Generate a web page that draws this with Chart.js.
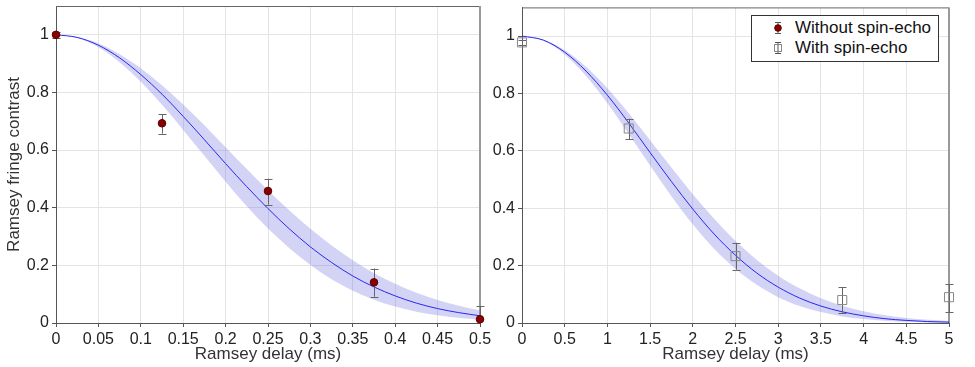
<!DOCTYPE html>
<html>
<head>
<meta charset="utf-8">
<script src="https://cdn.jsdelivr.net/npm/chart.js@4.4.1/dist/chart.umd.min.js"></script>
<style>
  body { margin: 0; background: #fff; width: 975px; height: 367px; overflow: hidden; position: relative; font-family: "Liberation Sans", Arial, sans-serif; }
  #wrapLeft { position: absolute; left: 0; top: 0; }
  #wrapRight { position: absolute; left: 487px; top: 0; }
  #legend { position: absolute; left: 751px; top: 15px; width: 188px; height: 47px; border: 1px solid #333; background: #fff; box-sizing: border-box; font-size: 17px; color: #111; }
  #legend .row { position: absolute; left: 20px; height: 20px; display: flex; align-items: center; }
  #legend svg { margin-right: 11px; }
</style>
</head>
<body>
<div id="wrapLeft"><canvas id="leftChart" width="497" height="367"></canvas></div>
<div id="wrapRight"><canvas id="rightChart" width="488" height="367"></canvas></div>
<div id="legend">
  <div class="row" style="top:2px">
    <svg width="12" height="20"><line x1="6" y1="4" x2="6" y2="16" stroke="#555"/><line x1="3" y1="4.5" x2="9" y2="4.5" stroke="#555"/><line x1="3" y1="15.5" x2="9" y2="15.5" stroke="#555"/><circle cx="6" cy="10" r="3.3" fill="#8b0000" stroke="#5a0000"/></svg>
    <span>Without spin-echo</span>
  </div>
  <div class="row" style="top:22px">
    <svg width="12" height="20"><line x1="6" y1="4" x2="6" y2="16" stroke="#555"/><line x1="3" y1="4.5" x2="9" y2="4.5" stroke="#555"/><line x1="3" y1="15.5" x2="9" y2="15.5" stroke="#555"/><rect x="2.5" y="6.5" width="7" height="7" fill="none" stroke="#888"/></svg>
    <span>With spin-echo</span>
  </div>
</div>
<script>
// measured points (Ramsey delay in ms, contrast)
const delayShort = [0, 0.125, 0.25, 0.375, 0.5];
const contrastNoEcho = [1.0, 0.693, 0.458, 0.141, 0.013];
const errLowNoEcho = [0.99, 0.657, 0.411, 0.091, -0.03];
const errHighNoEcho = [1.01, 0.725, 0.501, 0.189, 0.059];

const delayLong = [0, 1.25, 2.5, 3.75, 5];
const contrastEcho = [0.978, 0.678, 0.233, 0.08, 0.09];
const errLowEcho = [0.968, 0.640, 0.186, 0.036, 0.039];
const errHighEcho = [0.988, 0.712, 0.279, 0.124, 0.136];

// fit curves
const fitXShort = [0, 0.025, 0.05, 0.075, 0.1, 0.125, 0.15, 0.175, 0.2, 0.225, 0.25, 0.275, 0.3, 0.325, 0.35, 0.375, 0.4, 0.425, 0.45, 0.475, 0.5];
const fitNoEcho = [1, 0.991, 0.964, 0.920, 0.862, 0.794, 0.717, 0.636, 0.553, 0.473, 0.397, 0.327, 0.264, 0.210, 0.163, 0.125, 0.094, 0.069, 0.050, 0.036, 0.025];
const fitNoEchoUpper = [1, 0.992, 0.970, 0.933, 0.884, 0.825, 0.758, 0.686, 0.610, 0.534, 0.461, 0.391, 0.327, 0.269, 0.218, 0.173, 0.136, 0.105, 0.080, 0.060, 0.044];
const fitNoEchoLower = [1, 0.989, 0.957, 0.905, 0.837, 0.757, 0.670, 0.580, 0.490, 0.405, 0.328, 0.260, 0.201, 0.152, 0.112, 0.081, 0.057, 0.039, 0.027, 0.018, 0.012];

const fitXLong = [0, 0.25, 0.5, 0.75, 1, 1.25, 1.5, 1.75, 2, 2.25, 2.5, 2.75, 3, 3.25, 3.5, 3.75, 4, 4.25, 4.5, 4.75, 5];
const fitEcho = [1, 0.986, 0.944, 0.878, 0.794, 0.697, 0.594, 0.493, 0.397, 0.310, 0.236, 0.174, 0.125, 0.087, 0.059, 0.039, 0.025, 0.015, 0.009, 0.005, 0.003];
const fitEchoUpper = [1, 0.987, 0.951, 0.893, 0.818, 0.731, 0.637, 0.542, 0.449, 0.363, 0.286, 0.220, 0.165, 0.121, 0.086, 0.060, 0.041, 0.027, 0.017, 0.011, 0.007];
const fitEchoLower = [1, 0.984, 0.936, 0.861, 0.766, 0.659, 0.549, 0.442, 0.344, 0.259, 0.189, 0.133, 0.090, 0.059, 0.038, 0.023, 0.014, 0.008, 0.004, 0.002, 0.001];

const yTicks = [0, 0.2, 0.4, 0.6, 0.8, 1];

function toPoints(xs, ys) {
  return xs.map((x, i) => ({ x, y: ys[i] }));
}

// draws vertical error bars under the marker dataset (index 0)
const errorBars = {
  id: "errorBars",
  beforeDatasetDraw(chart, args) {
    if (args.index !== 0) return;
    const ds = chart.data.datasets[0];
    const xs = chart.scales.x, ys = chart.scales.y;
    const ctx = chart.ctx;
    ctx.save();
    ctx.strokeStyle = "#666";
    ctx.lineWidth = 1;
    ds.data.forEach((p, i) => {
      const px = Math.round(xs.getPixelForValue(p.x)) + 0.5;
      const lo = Math.max(ds.errLow[i], ys.min);
      const hi = ds.errHigh[i];
      const yLo = ys.getPixelForValue(lo);
      const yHi = ys.getPixelForValue(hi);
      ctx.beginPath();
      ctx.moveTo(px, yLo);
      ctx.lineTo(px, yHi);
      ctx.moveTo(px - 4, Math.round(yHi) + 0.5);
      ctx.lineTo(px + 4, Math.round(yHi) + 0.5);
      if (ds.errLow[i] >= ys.min) {
        ctx.moveTo(px - 4, Math.round(yLo) + 0.5);
        ctx.lineTo(px + 4, Math.round(yLo) + 0.5);
      }
      ctx.stroke();
    });
    ctx.restore();
  }
};

// box around the plot area
const frame = {
  id: "frame",
  beforeDatasetsDraw(chart) {
    const a = chart.chartArea;
    const ctx = chart.ctx;
    ctx.save();
    ctx.strokeStyle = "#666";
    ctx.lineWidth = 1;
    ctx.beginPath();
    ctx.moveTo(a.left, a.top + 0.5);
    ctx.lineTo(a.right, a.top + 0.5);
    ctx.stroke();
    ctx.strokeStyle = "#999";
    ctx.lineWidth = 2;
    ctx.beginPath();
    ctx.moveTo(a.right, a.top);
    ctx.lineTo(a.right, a.bottom);
    ctx.stroke();
    ctx.restore();
  }
};

function fmt(v) {
  return String(parseFloat(Number(v).toFixed(3)));
}

function renderPanel(canvasId, cfg) {
  const ctx = document.getElementById(canvasId);
  const family = "'Liberation Sans', Arial, sans-serif";
  const font = { family, size: 16 };
  return new Chart(ctx, {
    type: "scatter",
    data: {
      datasets: [
        {
          data: toPoints(cfg.x, cfg.y),
          errLow: cfg.errLow,
          errHigh: cfg.errHigh,
          showLine: false,
          clip: false,
          pointStyle: cfg.pointStyle,
          pointRadius: cfg.pointRadius,
          backgroundColor: cfg.pointFill,
          borderColor: cfg.pointBorder,
          borderWidth: 1
        },
        {
          data: toPoints(cfg.fitX, cfg.fit),
          showLine: true,
          pointRadius: 0,
          borderColor: "#2828f0",
          borderWidth: 1,
          cubicInterpolationMode: "monotone",
          fill: false
        },
        {
          data: toPoints(cfg.fitX, cfg.fitUpper),
          showLine: true,
          pointRadius: 0,
          borderWidth: 0,
          borderColor: "rgba(0,0,0,0)",
          backgroundColor: "rgba(110,110,225,0.3)",
          cubicInterpolationMode: "monotone",
          fill: "+1"
        },
        {
          data: toPoints(cfg.fitX, cfg.fitLower),
          showLine: true,
          pointRadius: 0,
          borderWidth: 0,
          borderColor: "rgba(0,0,0,0)",
          cubicInterpolationMode: "monotone",
          fill: false
        }
      ]
    },
    options: {
      responsive: false,
      animation: false,
      events: [],
      layout: { padding: { top: 6, right: cfg.padRight, left: 0, bottom: 0 } },
      plugins: { legend: { display: false }, tooltip: { enabled: false } },
      scales: {
        x: {
          type: "linear",
          min: 0,
          max: cfg.xMax,
          ticks: { stepSize: cfg.xStep, includeBounds: false, color: "#222", font, padding: 3, maxRotation: 0, autoSkip: false, callback: fmt },
          grid: { color: "#e4e4e4", tickColor: "#555", tickLength: 4 },
          border: { color: "#555", width: 1 },
          title: { display: true, text: "Ramsey delay (ms)", color: "#333", font: { family, size: 17 }, padding: { top: 0, bottom: 2 } },
          afterFit(scale) { scale.height = 44; scale.paddingLeft = 0; scale.paddingRight = 0; }
        },
        y: {
          type: "linear",
          min: 0,
          max: 1.1,
          afterBuildTicks(scale) { scale.ticks = yTicks.map(v => ({ value: v })); },
          ticks: { color: "#222", font, padding: 3, callback: fmt },
          grid: { color: "#e4e4e4", tickColor: "#555", tickLength: 4 },
          border: { color: "#555", width: 1 },
          title: { display: cfg.yTitle, text: "Ramsey fringe contrast", color: "#333", font: { family, size: 17 }, padding: { top: 4, bottom: 0 } },
          afterFit(scale) { scale.width = cfg.yWidth; scale.paddingTop = 0; scale.paddingBottom = 0; }
        }
      }
    },
    plugins: [frame, errorBars]
  });
}

renderPanel("leftChart", {
  x: delayShort, y: contrastNoEcho, errLow: errLowNoEcho, errHigh: errHighNoEcho,
  fitX: fitXShort, fit: fitNoEcho, fitUpper: fitNoEchoUpper, fitLower: fitNoEchoLower,
  xMax: 0.5, xStep: 0.05, padRight: 17, yWidth: 56, yTitle: true,
  pointStyle: "circle", pointRadius: 3.8, pointFill: "#8b0000", pointBorder: "#5a0000"
});

renderPanel("rightChart", {
  x: delayLong, y: contrastEcho, errLow: errLowEcho, errHigh: errHighEcho,
  fitX: fitXLong, fit: fitEcho, fitUpper: fitEchoUpper, fitLower: fitEchoLower,
  xMax: 5, xStep: 0.5, padRight: 26, yWidth: 35, yTitle: false,
  pointStyle: "rect", pointRadius: 6.4, pointFill: "rgba(255,255,255,0)", pointBorder: "#888"
});
</script>
</body>
</html>
